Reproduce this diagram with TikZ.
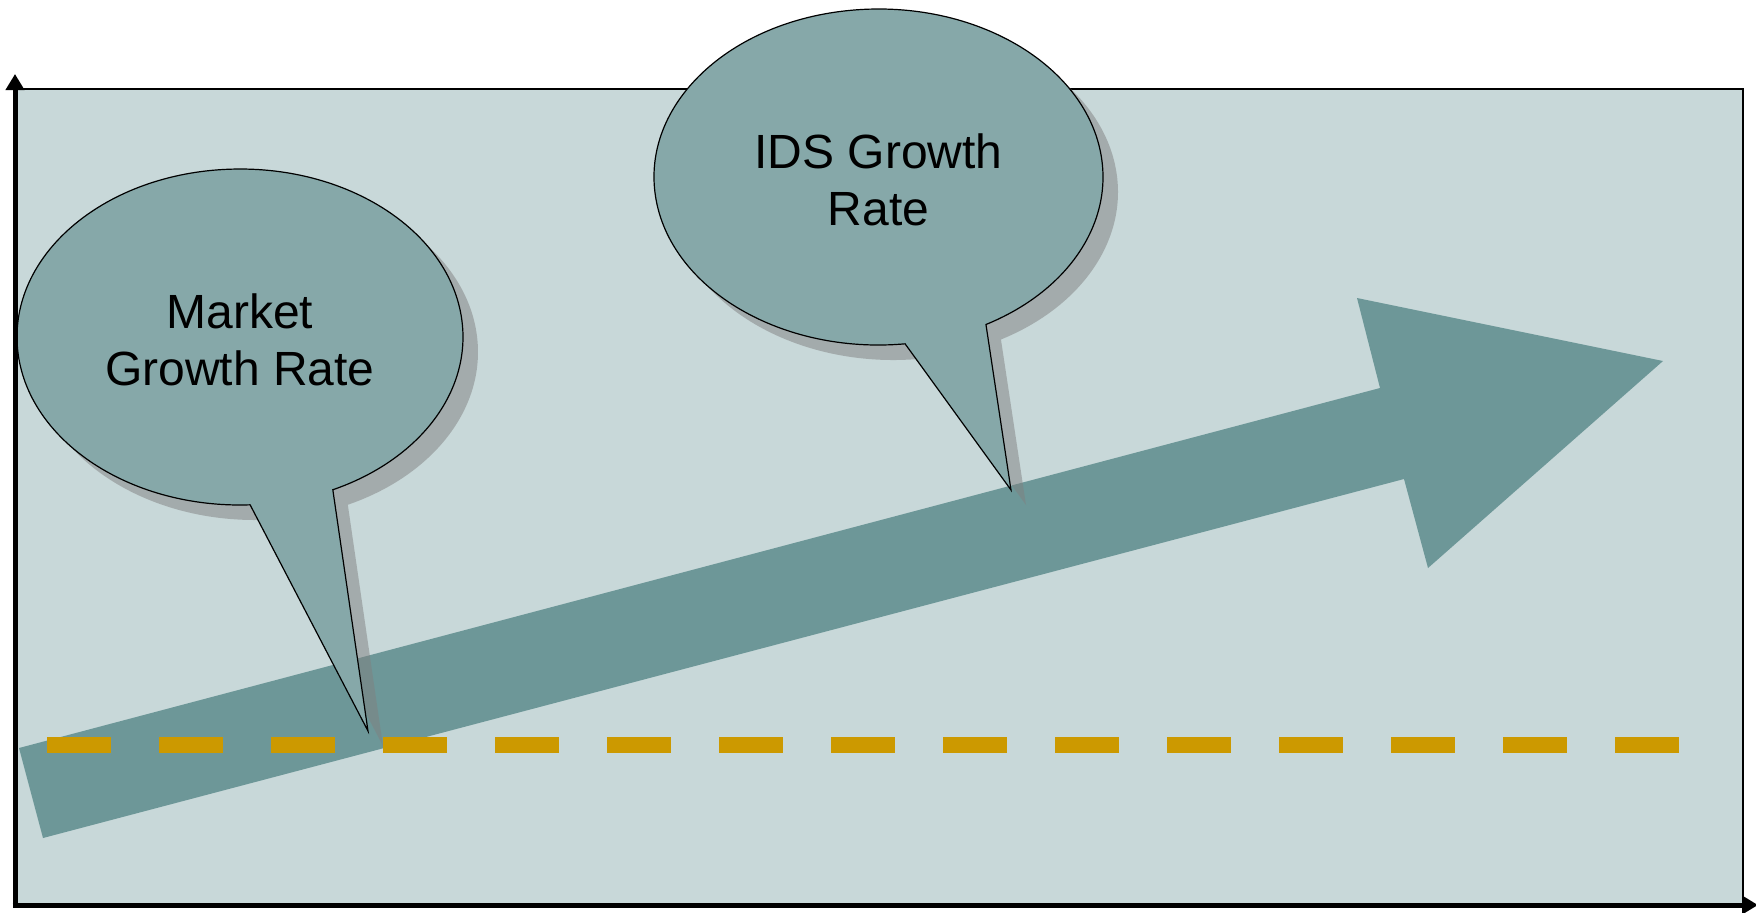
\documentclass[tikz,border=0pt]{standalone}
\usepackage{fontspec}
\setmainfont{Liberation Sans}
\usetikzlibrary{arrows.meta,calc}
\definecolor{panelbg}{HTML}{C8D8D9}
\definecolor{balloonfill}{HTML}{86A8A9}
\definecolor{arrowfill}{HTML}{6D9798}
\definecolor{shadowgray}{HTML}{808080}
\definecolor{dashgold}{HTML}{CC9900}
\begin{document}
\begin{tikzpicture}[x=0.5pt,y=-0.5pt,
  axisline/.style={line width=2.5pt,-{Triangle[length=8pt,width=9pt]}},
  balloon/.style={fill=balloonfill,draw=black,line width=0.6pt,line join=miter},
  balloonshadow/.style={fill=shadowgray,fill opacity=0.5,transform canvas={shift={(7.5pt,-7.5pt)}}},
  calltext/.style={font=\fontsize{24pt}{28.5pt}\selectfont,align=center,text=black,inner sep=0pt},
  levelline/.style={draw=dashgold,line width=8pt,dash pattern=on 32pt off 24pt}]
\useasboundingbox (0,0) rectangle (1756,912);

% chart panel
\fill[panelbg] (17,89) rectangle (1743,903);
\draw[line width=0.7pt] (15,89) -- (1743,89) -- (1743,905);

% rising growth arrow
\fill[arrowfill] (19,748) -- (1380,388) -- (1357,298) -- (1663,361)
  -- (1428,568) -- (1404,479) -- (43,838) -- cycle;

% callout anchors
\coordinate (mc) at (240,337);
\coordinate (mtip) at (368,731);
\coordinate (ic) at (878.5,177);
\coordinate (itip) at (1011,490);

% callout shadows
\fill[balloonshadow] ($(mc)+(87.4:223 and 168)$)
  arc[start angle=87.4,end angle=425.4,x radius=223,y radius=168] -- (mtip) -- cycle;
\fill[balloonshadow] ($(ic)+(83.2:224.5 and 168)$)
  arc[start angle=83.2,end angle=421.4,x radius=224.5,y radius=168] -- (itip) -- cycle;

% callouts
\draw[balloon] ($(mc)+(87.4:223 and 168)$)
  arc[start angle=87.4,end angle=425.4,x radius=223,y radius=168] -- (mtip) -- cycle;
\draw[balloon] ($(ic)+(83.2:224.5 and 168)$)
  arc[start angle=83.2,end angle=421.4,x radius=224.5,y radius=168] -- (itip) -- cycle;

\node[calltext] (mkt) at ($(mc)+(0,2.5)$) {Market\\Growth Rate};
\node[calltext] (ids) at ($(ic)+(0,2.5)$) {IDS Growth\\Rate};

% market level line
\coordinate (lvlstart) at (47,745);
\coordinate (lvlend) at (1679,745);
\draw[levelline] (lvlstart) -- (lvlend);

% axes
\coordinate (ytop) at (15,74);
\coordinate (xend) at (1758,905);
\coordinate (ybase) at (15,907.5);
\coordinate (xbase) at (12.5,905);
\draw[axisline] (ybase) -- (ytop);
\draw[axisline] (xbase) -- (xend);
\end{tikzpicture}
\end{document}
